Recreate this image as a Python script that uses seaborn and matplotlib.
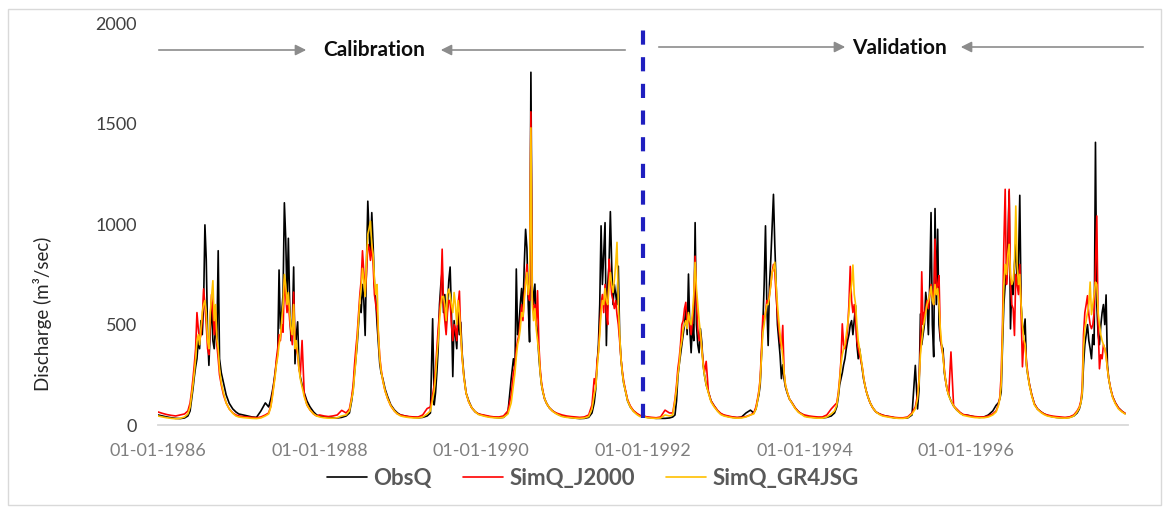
import pandas as pd
import matplotlib
matplotlib.use("Agg")
import matplotlib.pyplot as plt
import seaborn as sns
from matplotlib.patches import Rectangle

# days of the year at which the hydrographs were read
day_of_year = [0, 20, 40, 60, 80, 100, 120, 135, 145, 152, 158, 164, 170, 176, 182, 188, 194,
               200, 206, 212, 218, 224, 230, 236, 242, 248, 254, 260, 266, 272, 278, 286, 296,
               308, 322, 338, 352]
years = [1986, 1987, 1988, 1989, 1990, 1991, 1992, 1993, 1994, 1995, 1996, 1997]

# observed discharge (m3/sec), one row per year
obs_q = [
    [50, 45, 40, 36, 33, 32, 35, 45, 70, 130, 180, 240, 290, 330, 420, 380, 520, 450, 600, 997, 826, 450, 297, 480, 600, 420, 380, 500, 420, 868, 330, 260, 210, 150, 108, 80, 65],
    [55, 50, 45, 40, 38, 70, 110, 90, 130, 170, 210, 260, 310, 360, 772, 480, 560, 650, 1107, 934, 620, 930, 600, 420, 500, 787, 305, 450, 514, 300, 240, 200, 160, 120, 90, 65, 50],
    [45, 40, 38, 36, 35, 38, 45, 60, 120, 180, 260, 330, 400, 500, 600, 560, 700, 620, 446, 800, 1115, 950, 850, 1058, 900, 700, 620, 500, 400, 305, 260, 230, 180, 140, 100, 75, 60],
    [50, 45, 40, 38, 36, 38, 45, 60, 529, 100, 160, 260, 380, 600, 700, 768, 560, 650, 500, 600, 720, 787, 560, 241, 520, 450, 380, 560, 450, 512, 360, 250, 160, 120, 85, 65, 55],
    [50, 45, 40, 38, 36, 38, 60, 230, 330, 280, 777, 450, 500, 600, 680, 560, 800, 975, 880, 600, 414, 1757, 700, 600, 702, 520, 450, 340, 260, 200, 165, 130, 105, 85, 70, 58, 50],
    [45, 40, 37, 34, 32, 33, 38, 60, 110, 180, 300, 400, 600, 992, 700, 850, 1008, 396, 700, 800, 1063, 800, 600, 700, 650, 600, 791, 450, 330, 260, 210, 170, 120, 90, 70, 55, 45],
    [45, 38, 35, 33, 33, 33, 35, 40, 50, 120, 240, 300, 350, 400, 450, 500, 580, 450, 752, 480, 360, 500, 420, 1008, 500, 400, 360, 480, 414, 300, 250, 200, 165, 120, 95, 70, 55],
    [48, 42, 38, 36, 40, 60, 74, 60, 80, 120, 150, 200, 350, 500, 700, 992, 600, 396, 700, 826, 992, 1149, 900, 700, 500, 420, 345, 231, 300, 230, 190, 160, 130, 110, 85, 65, 55],
    [45, 40, 38, 36, 35, 38, 45, 60, 90, 140, 200, 231, 260, 300, 330, 380, 420, 450, 500, 520, 450, 520, 595, 400, 330, 380, 330, 280, 230, 200, 170, 140, 110, 85, 65, 55, 48],
    [45, 40, 36, 34, 34, 35, 50, 297, 80, 180, 553, 400, 450, 500, 661, 600, 450, 700, 1058, 500, 340, 1078, 600, 975, 500, 420, 396, 380, 260, 220, 181, 150, 120, 95, 75, 60, 50],
    [50, 45, 40, 38, 40, 50, 70, 98, 110, 130, 165, 400, 600, 700, 800, 900, 1165, 479, 700, 650, 800, 900, 700, 800, 1144, 600, 500, 450, 528, 300, 250, 200, 150, 105, 80, 65, 55],
    [48, 42, 38, 36, 35, 38, 45, 60, 80, 110, 150, 300, 400, 450, 500, 420, 380, 330, 450, 400, 1408, 600, 450, 400, 495, 560, 600, 500, 648, 300, 231, 180, 140, 110, 85, 68, 57],
]

# J2000 simulation
sim_j2000 = [
    [65, 58, 52, 48, 45, 50, 55, 70, 110, 170, 230, 300, 380, 560, 480, 420, 450, 520, 678, 600, 500, 380, 350, 520, 650, 560, 450, 560, 400, 330, 250, 200, 150, 110, 80, 60, 50],
    [45, 42, 40, 38, 36, 40, 50, 60, 95, 150, 200, 250, 330, 380, 450, 420, 500, 462, 727, 640, 560, 620, 520, 460, 400, 662, 400, 380, 350, 280, 250, 421, 150, 100, 75, 55, 45],
    [50, 45, 42, 45, 50, 73, 60, 80, 140, 200, 300, 380, 450, 550, 650, 720, 868, 760, 650, 750, 900, 880, 820, 900, 800, 650, 600, 560, 450, 340, 280, 220, 170, 130, 95, 70, 55],
    [50, 45, 42, 40, 40, 50, 82, 90, 150, 200, 280, 380, 480, 560, 650, 876, 600, 520, 450, 560, 620, 620, 500, 420, 500, 480, 420, 600, 667, 450, 340, 240, 160, 115, 85, 65, 55],
    [52, 47, 43, 40, 40, 45, 70, 150, 260, 300, 380, 420, 450, 520, 600, 520, 650, 720, 800, 650, 620, 1560, 640, 560, 600, 500, 669, 400, 280, 210, 170, 130, 105, 85, 70, 60, 55],
    [50, 45, 42, 40, 38, 40, 50, 100, 231, 200, 320, 363, 480, 600, 650, 560, 700, 560, 500, 826, 750, 650, 620, 580, 620, 550, 500, 420, 330, 270, 220, 175, 125, 95, 72, 58, 48],
    [45, 40, 38, 36, 40, 74, 60, 60, 130, 200, 280, 330, 400, 500, 520, 580, 611, 500, 550, 500, 450, 520, 600, 841, 620, 480, 420, 450, 380, 320, 260, 317, 165, 120, 95, 72, 58],
    [50, 45, 40, 38, 38, 42, 50, 60, 90, 130, 170, 230, 380, 545, 520, 560, 620, 613, 650, 700, 760, 800, 760, 650, 550, 480, 420, 380, 496, 260, 200, 165, 130, 110, 85, 65, 55],
    [50, 45, 42, 40, 40, 50, 80, 98, 110, 160, 230, 320, 504, 400, 380, 420, 480, 600, 790, 620, 560, 600, 520, 420, 380, 350, 320, 290, 240, 200, 170, 140, 110, 85, 65, 55, 50],
    [45, 42, 38, 36, 36, 40, 60, 90, 150, 230, 380, 763, 500, 560, 580, 620, 580, 650, 700, 650, 600, 926, 650, 700, 744, 450, 380, 350, 280, 220, 180, 150, 364, 95, 80, 62, 52],
    [50, 45, 42, 40, 40, 45, 55, 70, 100, 140, 250, 500, 900, 1174, 700, 800, 1174, 700, 600, 580, 446, 750, 700, 650, 800, 560, 290, 420, 400, 320, 260, 200, 150, 105, 80, 65, 55],
    [50, 45, 42, 40, 38, 40, 50, 70, 90, 120, 180, 450, 560, 600, 644, 550, 500, 480, 500, 560, 800, 1041, 500, 280, 350, 330, 400, 380, 350, 280, 230, 185, 140, 110, 85, 68, 58],
]

# GR4JSG simulation
sim_gr4jsg = [
    [45, 40, 36, 33, 31, 33, 40, 55, 90, 150, 200, 260, 330, 420, 450, 400, 480, 560, 600, 620, 560, 420, 380, 560, 640, 719, 520, 600, 430, 380, 280, 210, 160, 110, 80, 58, 45],
    [40, 37, 35, 33, 32, 35, 45, 55, 90, 140, 190, 240, 300, 340, 400, 440, 520, 600, 750, 700, 600, 660, 560, 480, 450, 600, 380, 420, 360, 280, 230, 190, 140, 100, 75, 55, 45],
    [40, 36, 34, 34, 36, 45, 50, 70, 130, 170, 250, 320, 420, 520, 620, 680, 780, 720, 640, 820, 950, 980, 1015, 900, 850, 727, 650, 700, 450, 330, 270, 220, 170, 130, 95, 70, 55],
    [45, 40, 37, 35, 35, 40, 55, 70, 130, 170, 240, 340, 420, 520, 600, 640, 640, 600, 520, 650, 677, 650, 600, 560, 660, 600, 500, 620, 560, 450, 340, 240, 160, 115, 85, 65, 52],
    [48, 42, 38, 36, 35, 38, 55, 110, 200, 260, 340, 400, 430, 480, 560, 540, 620, 700, 760, 650, 700, 1480, 600, 520, 580, 480, 420, 360, 260, 200, 165, 130, 105, 85, 68, 56, 48],
    [42, 38, 36, 34, 33, 35, 42, 80, 150, 190, 280, 360, 450, 560, 620, 600, 680, 620, 600, 700, 760, 700, 660, 720, 800, 910, 600, 450, 330, 260, 210, 170, 120, 90, 68, 52, 42],
    [42, 36, 34, 33, 35, 50, 45, 50, 120, 180, 250, 300, 380, 420, 480, 500, 520, 480, 560, 520, 500, 560, 650, 810, 680, 600, 520, 460, 380, 300, 250, 200, 160, 115, 90, 68, 52],
    [45, 40, 36, 34, 35, 40, 50, 55, 80, 120, 160, 220, 340, 460, 500, 560, 600, 600, 640, 700, 760, 780, 811, 700, 600, 520, 450, 400, 340, 260, 200, 165, 130, 108, 82, 62, 52],
    [42, 38, 36, 34, 34, 40, 55, 70, 100, 150, 220, 300, 350, 380, 400, 450, 500, 560, 650, 700, 797, 650, 600, 500, 420, 380, 340, 290, 240, 200, 170, 140, 110, 85, 65, 52, 45],
    [42, 38, 35, 33, 33, 36, 55, 80, 130, 220, 350, 420, 480, 520, 560, 600, 620, 650, 690, 620, 600, 700, 650, 680, 600, 480, 400, 340, 270, 220, 180, 145, 120, 95, 75, 58, 48],
    [45, 40, 37, 36, 36, 40, 50, 65, 95, 130, 200, 450, 700, 800, 750, 850, 900, 750, 700, 720, 800, 1091, 800, 700, 750, 600, 500, 430, 400, 300, 250, 195, 145, 100, 78, 62, 52],
    [45, 40, 37, 35, 34, 36, 45, 65, 85, 110, 160, 380, 480, 520, 560, 600, 712, 550, 600, 650, 712, 700, 560, 500, 450, 420, 400, 380, 340, 280, 230, 180, 135, 105, 80, 65, 55],
]

series_names = ["ObsQ", "SimQ_J2000", "SimQ_GR4JSG"]
series_colors = ["#000000", "#FF0000", "#FFC000"]
split_date = pd.Timestamp("1992-01-01")

# long table for seaborn
rows = []
for name, table in zip(series_names, [obs_q, sim_j2000, sim_gr4jsg]):
    for yr, vals in zip(years, table):
        for d, v in zip(day_of_year, vals):
            rows.append((pd.Timestamp(yr, 1, 1) + pd.Timedelta(days=d), v, name))
df = pd.DataFrame(rows, columns=["date", "Q", "series"])

sns.set_style("white")
plt.rcParams["font.family"] = ["Lato", "DejaVu Sans"]

W, H = 1166, 509
fig = plt.figure(figsize=(W / 100, H / 100), dpi=100)
ax = fig.add_axes([158 / W, (H - 425) / H, 970 / W, 401.5 / H])

sns.lineplot(data=df, x="date", y="Q", hue="series", hue_order=series_names,
             palette=dict(zip(series_names, series_colors)), estimator=None,
             linewidth=1.2, ax=ax)

ax.set_xlim(pd.Timestamp("1986-01-01"), pd.Timestamp("1998-01-01"))
ax.set_ylim(0, 2000)
ax.set_yticks([0, 500, 1000, 1500, 2000])
xt = [pd.Timestamp(y, 1, 1) for y in range(1986, 1999, 2)]
ax.set_xticks(xt)
ax.set_xticklabels([t.strftime("%d-%m-%Y") for t in xt[:-1]] + [""])
ax.set_xlabel("")
ax.set_ylabel("")

for s in ["left", "top", "right"]:
    ax.spines[s].set_visible(False)
ax.spines["bottom"].set_color("#d9d9d9")
ax.spines["bottom"].set_linewidth(1.3)
ax.tick_params(axis="x", length=5, width=1.3, color="#d9d9d9", pad=8,
               labelsize=13, labelcolor="#7f7f7f")
ax.tick_params(axis="y", length=0, pad=15, labelsize=13, labelcolor="#404040")

# calibration / validation split
ax.axvline(split_date, ymin=0.017, ymax=1.004, color="#1F1FBF", lw=3,
           linestyle=(0, (3.4, 3.0)), clip_on=False)

fig.text(42 / W, 1 - 314 / H, "Discharge (m³/sec)", rotation=90, ha="center", va="center",
         fontsize=13.5, color="#262626")

# period arrows
def px(x, y):
    return (x, H - y)

arrow_kw = dict(arrowstyle="-|>", color="#8c8c8c", lw=1.2, mutation_scale=16)
for tail, head in [((156, 50), (309, 50)), ((628, 50), (438, 50)),
                   ((656, 47), (848, 47)), ((1146, 47), (958, 47))]:
    ax.annotate("", xy=px(*head), xytext=px(*tail), xycoords="figure pixels",
                textcoords="figure pixels", arrowprops=arrow_kw)
fig.text(374 / W, 1 - 50 / H, "Calibration", ha="center", va="center",
         fontsize=15, fontweight="bold", color="#0d0d0d")
fig.text(899 / W, 1 - 48 / H, "Validation", ha="center", va="center",
         fontsize=15, fontweight="bold", color="#0d0d0d")

handles, labels = ax.get_legend_handles_labels()
ax.legend(handles, labels, loc="center", bbox_to_anchor=(593 / W, 1 - 478 / H),
          bbox_transform=fig.transFigure, ncol=3, frameon=False,
          prop={"weight": "bold", "size": 16}, labelcolor="#595959",
          handlelength=1.8, handletextpad=0.3, columnspacing=1.4)

fig.patches.append(Rectangle((8 / W, 4 / H), 1153 / W, 496 / H, transform=fig.transFigure,
                             fill=False, edgecolor="#d9d9d9", lw=1.0))

fig.savefig("out.png", dpi=100)
